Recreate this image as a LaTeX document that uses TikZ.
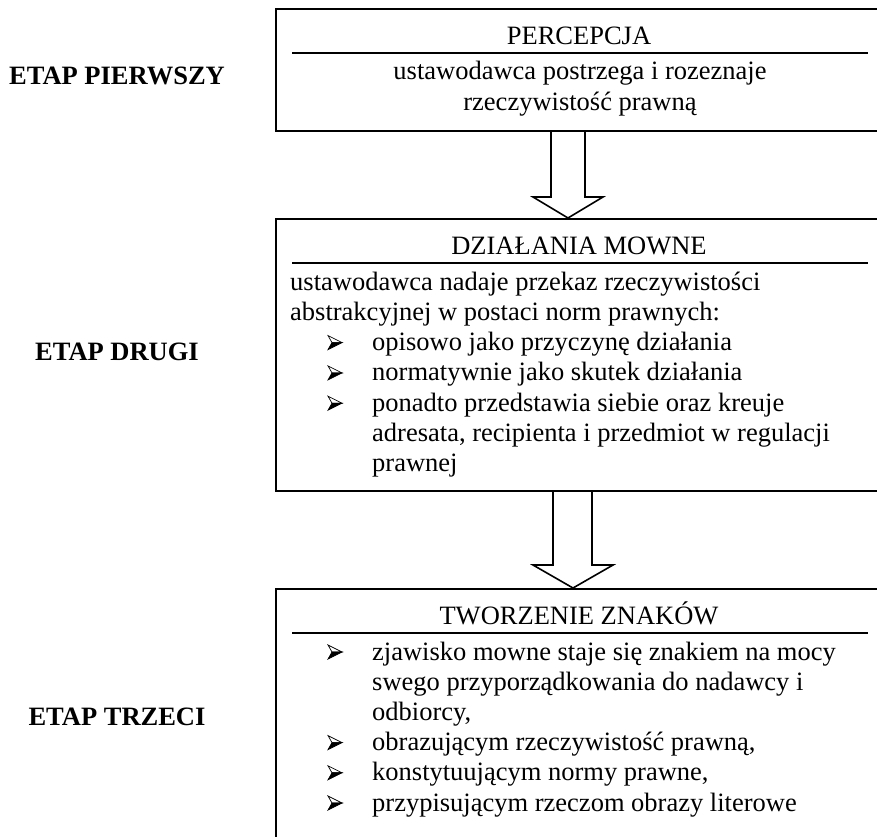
\documentclass[tikz,border=0pt]{standalone}
\usepackage{fontspec}
\setmainfont{Liberation Serif}
\begin{document}
\begin{tikzpicture}[x=1pt,y=-1pt,
  stagebox/.style={draw=black, line width=1.6pt, minimum width=610pt, inner sep=0pt, anchor=north west},
  sepline/.style={line width=2pt},
  blockarrow/.style={draw=black, line width=1.6pt, line join=miter},
  txt/.style={font=\fontsize{26.5}{30.4}\selectfont, inner sep=0pt, anchor=base west},
  ctxt/.style={txt, anchor=base},
  lab/.style={font=\fontsize{26.5}{30.4}\selectfont\bfseries, inner sep=0pt, anchor=base},
  listbullet/.pic={
    \filldraw[fill=white, draw=black, line width=0.7pt, line join=miter] (0,-15) -- (14,-8) -- (4,-8) -- cycle;
    \filldraw[fill=black, draw=black, line width=0.7pt, line join=miter] (4,-8) -- (14,-8) -- (0,-1) -- cycle;
  }
]
\useasboundingbox (0,0) rectangle (877,836);
\clip (0,0) rectangle (877,836);
\fill[white] (0,0) rectangle (877,836);

% left labels
\node[lab] (e1) at (117,84) {ETAP PIERWSZY};
\node[lab] (e2) at (117,360) {ETAP DRUGI};
\node[lab] (e3) at (117,725) {ETAP TRZECI};

% boxes
\node[stagebox, minimum height=122pt] (b1) at (275,8) {};
\node[stagebox, minimum height=272pt] (b2) at (275,218) {};
\node[stagebox, minimum height=290pt] (b3) at (275,588) {};

% box 1
\node[ctxt] (t1) at (579,44) {PERCEPCJA};
\coordinate (s1l) at (292,53); \coordinate (s1r) at (868,53);
\draw[sepline] (s1l) -- (s1r);
\node[ctxt] (p1) at (580,79) {ustawodawca postrzega i rozeznaje};
\node[ctxt] (p2) at (580,110) {rzeczywistość prawną};

% box 2
\node[ctxt] (t2) at (579,254) {DZIAŁANIA MOWNE};
\coordinate (s2l) at (292,263); \coordinate (s2r) at (868,263);
\draw[sepline] (s2l) -- (s2r);
\node[txt] (d1) at (290,290) {ustawodawca nadaje przekaz rzeczywistości};
\node[txt] (d2) at (290,320.3) {abstrakcyjnej w postaci norm prawnych:};
\pic at (328,350.6) {listbullet};
\node[txt] (d3) at (372,350.6) {opisowo jako przyczynę działania};
\pic at (328,380.9) {listbullet};
\node[txt] (d4) at (372,380.9) {normatywnie jako skutek działania};
\pic at (328,411.2) {listbullet};
\node[txt] (d5) at (372,411.2) {ponadto przedstawia siebie oraz kreuje};
\node[txt] (d6) at (372,441.5) {adresata, recipienta i przedmiot w regulacji};
\node[txt] (d7) at (372,471.8) {prawnej};

% box 3
\node[ctxt] (t3) at (579,624) {TWORZENIE ZNAKÓW};
\coordinate (s3l) at (292,633); \coordinate (s3r) at (868,633);
\draw[sepline] (s3l) -- (s3r);
\pic at (328,660) {listbullet};
\node[txt] (z1) at (372,660) {zjawisko mowne staje się znakiem na mocy};
\node[txt] (z2) at (372,690.2) {swego przyporządkowania do nadawcy i};
\node[txt] (z3) at (372,720.4) {odbiorcy,};
\pic at (328,750.6) {listbullet};
\node[txt] (z4) at (372,750.6) {obrazującym rzeczywistość prawną,};
\pic at (328,780.8) {listbullet};
\node[txt] (z5) at (372,780.8) {konstytuującym normy prawne,};
\pic at (328,811) {listbullet};
\node[txt] (z6) at (372,811) {przypisującym rzeczom obrazy literowe};

% block arrows
\draw[blockarrow] (551,0 |- b1.south) -- (551,197) -- (533,197) -- (568,0 |- b2.north) -- (603,197) -- (585,197) -- (585,0 |- b1.south);
\draw[blockarrow] (553,0 |- b2.south) -- (553,565) -- (533,565) -- (573,0 |- b3.north) -- (613,565) -- (592,565) -- (592,0 |- b2.south);
\end{tikzpicture}
\end{document}
